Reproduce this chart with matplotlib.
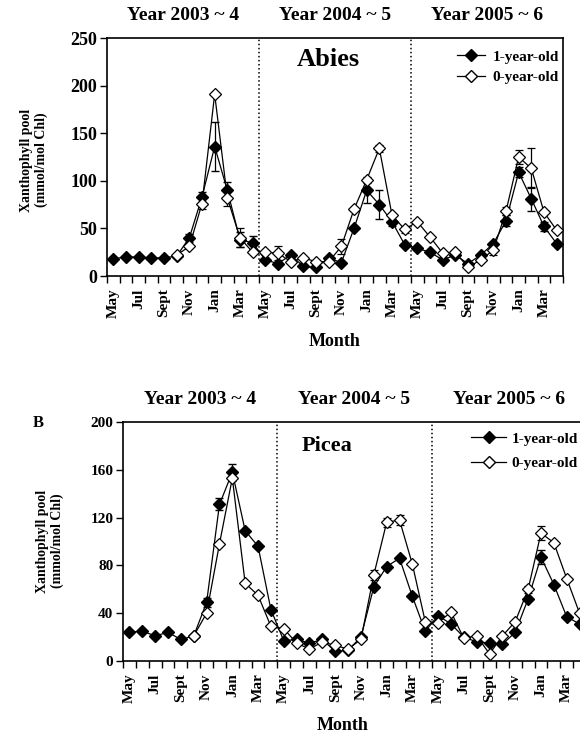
import numpy as np
import matplotlib
matplotlib.use('Agg')
import matplotlib.pyplot as plt
from matplotlib.lines import Line2D

plt.rcParams['font.family'] = ['Liberation Serif', 'DejaVu Serif']
plt.rcParams['font.weight'] = 'bold'

nan = np.nan

# monthly samples, May 2003 .. Apr 2006
month_labels = ['May', 'Jul', 'Sept', 'Nov', 'Jan', 'Mar'] * 3
year_titles = ['Year 2003 ~ 4', 'Year 2004 ~ 5', 'Year 2005 ~ 6']

# Abies
abies_1yr = [18, 20, 20, 19, 19, 21, 40, 83, 136, 90, 38, 35,
             17, 13, 22, 10, 9, 19, 14, 50, 90, 75, 57, 33,
             29, 25, 17, 22, 13, 22, 34, 58, 109, 81, 52, 34]
abies_1yr_err = [0, 0, 0, 0, 0, 0, 4, 5, 26, 9, 8, 7,
                 0, 0, 0, 0, 0, 0, 0, 0, 13, 15, 5, 0,
                 0, 0, 0, 0, 0, 0, 0, 6, 5, 13, 5, 0]
abies_0yr = [nan, nan, nan, nan, nan, 22, 31, 76, 191, 82, 40, 25,
             25, 24, 15, 19, 15, 15, 31, 70, 101, 134, 64, 49,
             57, 41, 24, 25, 9, 17, 27, 68, 125, 113, 67, 48]
abies_0yr_err = [0, 0, 0, 0, 0, 0, 0, 6, 0, 8, 10, 0,
                 0, 7, 0, 0, 0, 0, 8, 0, 3, 4, 0, 4,
                 0, 0, 0, 0, 0, 0, 5, 4, 7, 21, 0, 0]

# Picea
picea_1yr = [24, 25, 21, 24, 18, 21, 49, 131, 158, 109, 96, 43,
             17, 18, 15, 18, 8, 9, 20, 62, 79, 86, 54, 25,
             38, 31, 20, 16, 15, 14, 24, 52, 87, 64, 37, 31]
picea_1yr_err = [0, 0, 0, 0, 0, 0, 4, 5, 7, 0, 0, 0,
                 0, 0, 0, 0, 0, 0, 0, 0, 0, 0, 0, 0,
                 0, 0, 0, 0, 0, 0, 0, 0, 6, 0, 0, 0]
picea_0yr = [nan, nan, nan, nan, nan, 21, 40, 98, 153, 65, 55, 29,
             27, 15, 10, 16, 13, 10, 18, 72, 116, 118, 81, 33,
             32, 41, 19, 21, 6, 21, 33, 60, 107, 99, 69, 40]
picea_0yr_err = [0, 0, 0, 0, 0, 0, 0, 0, 0, 0, 0, 0,
                 0, 0, 0, 0, 0, 0, 0, 4, 4, 4, 0, 0,
                 0, 0, 0, 0, 0, 0, 0, 3, 6, 0, 0, 0]

W, H = 580, 737
fig = plt.figure(figsize=(W / 100, H / 100), dpi=100)


def px_axes(left, right, top, bottom):
    return fig.add_axes([left / W, 1 - bottom / H, (right - left) / W, (bottom - top) / H])


def draw_panel(ax, s1, e1, s0, e0, ymax, ystep, ytick_fs, ms):
    x = np.arange(36)
    s1 = np.array(s1, float)
    s0 = np.array(s0, float)
    e1 = np.array(e1, float)
    e0 = np.array(e0, float)
    ax.errorbar(x, s1, yerr=np.where(e1 > 0, e1, nan), color='k', lw=0.9,
                marker='D', ms=ms, mfc='k', mec='k', capsize=3, elinewidth=0.9, zorder=3)
    ax.errorbar(x, s0, yerr=np.where(e0 > 0, e0, nan), color='k', lw=0.9,
                marker='D', ms=ms, mfc='white', mec='k', mew=0.9, capsize=3,
                elinewidth=0.9, zorder=4)
    for b in (11.5, 23.5):
        ax.axvline(b, color='k', ls=':', lw=1.1, zorder=1)
    ax.set_xlim(-0.5, 35.5)
    ax.set_ylim(0, ymax)
    ax.set_yticks(np.arange(0, ymax + 1, ystep))
    ax.tick_params(axis='y', direction='out', length=5, width=1, labelsize=ytick_fs, pad=2)
    ax.set_xticks(np.arange(-0.5, 36, 1))
    ax.set_xticklabels([])
    ax.tick_params(axis='x', which='major', direction='out', length=5, width=1)
    ax.set_xticks(np.arange(0, 36, 2), minor=True)
    ax.set_xticklabels(month_labels, minor=True, rotation=90, fontsize=11, fontweight='bold')
    ax.tick_params(axis='x', which='minor', length=0, pad=9)
    for sp in ax.spines.values():
        sp.set_linewidth(1.2)
    for i, t in enumerate(year_titles):
        ax.text(5.5 + 12 * i, 1.095, t, transform=ax.get_xaxis_transform(),
                ha='center', va='center', fontsize=14, fontweight='bold')
    return ax


def legend_handles(ms):
    return [Line2D([], [], color='k', lw=0.9, marker='D', ms=ms, mfc='k', mec='k'),
            Line2D([], [], color='k', lw=0.9, marker='D', ms=ms, mfc='white', mec='k')]


# top panel: Abies
ax1 = px_axes(107, 563, 38, 276)
draw_panel(ax1, abies_1yr, abies_1yr_err, abies_0yr, abies_0yr_err, 250, 50, 13, 5.8)
fig.text(328 / W, 1 - 60 / H, 'Abies', fontsize=19, fontweight='bold',
         ha='center', va='center')
fig.text(34 / W, 1 - 160 / H, 'Xanthophyll pool\n(mmol/mol Chl)', rotation=90,
         ha='center', va='center', fontsize=10, fontweight='bold', linespacing=1.2)
fig.text(335 / W, 1 - 342 / H, 'Month', ha='center', va='center', fontsize=13,
         fontweight='bold')
fig.legend(legend_handles(5.8), ['1-year-old', '0-year-old'], loc='upper right',
           bbox_to_anchor=(559 / W, 1 - 50 / H), frameon=False,
           handlelength=1.8, handletextpad=0.5, labelspacing=0.45,
           borderpad=0, borderaxespad=0, prop={'weight': 'bold', 'size': 11})

# bottom panel: Picea
ax2 = px_axes(123, 586, 422, 661)
draw_panel(ax2, picea_1yr, picea_1yr_err, picea_0yr, picea_0yr_err, 200, 40, 11, 6.0)
fig.text(327 / W, 1 - 446 / H, 'Picea', ha='center', va='center', fontsize=16,
         fontweight='bold')
fig.text(38 / W, 1 - 423 / H, 'B', ha='center', va='center', fontsize=12,
         fontweight='bold')
fig.text(50 / W, 1 - 541 / H, 'Xanthophyll pool\n(mmol/mol Chl)', rotation=90,
         ha='center', va='center', fontsize=10, fontweight='bold', linespacing=1.2)
fig.text(343 / W, 1 - 725 / H, 'Month', ha='center', va='center', fontsize=13,
         fontweight='bold')
fig.legend(legend_handles(6.0), ['1-year-old', '0-year-old'], loc='upper right',
           bbox_to_anchor=(578 / W, 1 - 432 / H), frameon=False,
           handlelength=2.3, handletextpad=0.35, labelspacing=0.7,
           borderpad=0, borderaxespad=0, prop={'weight': 'bold', 'size': 11})

fig.savefig('out.png', dpi=100)
